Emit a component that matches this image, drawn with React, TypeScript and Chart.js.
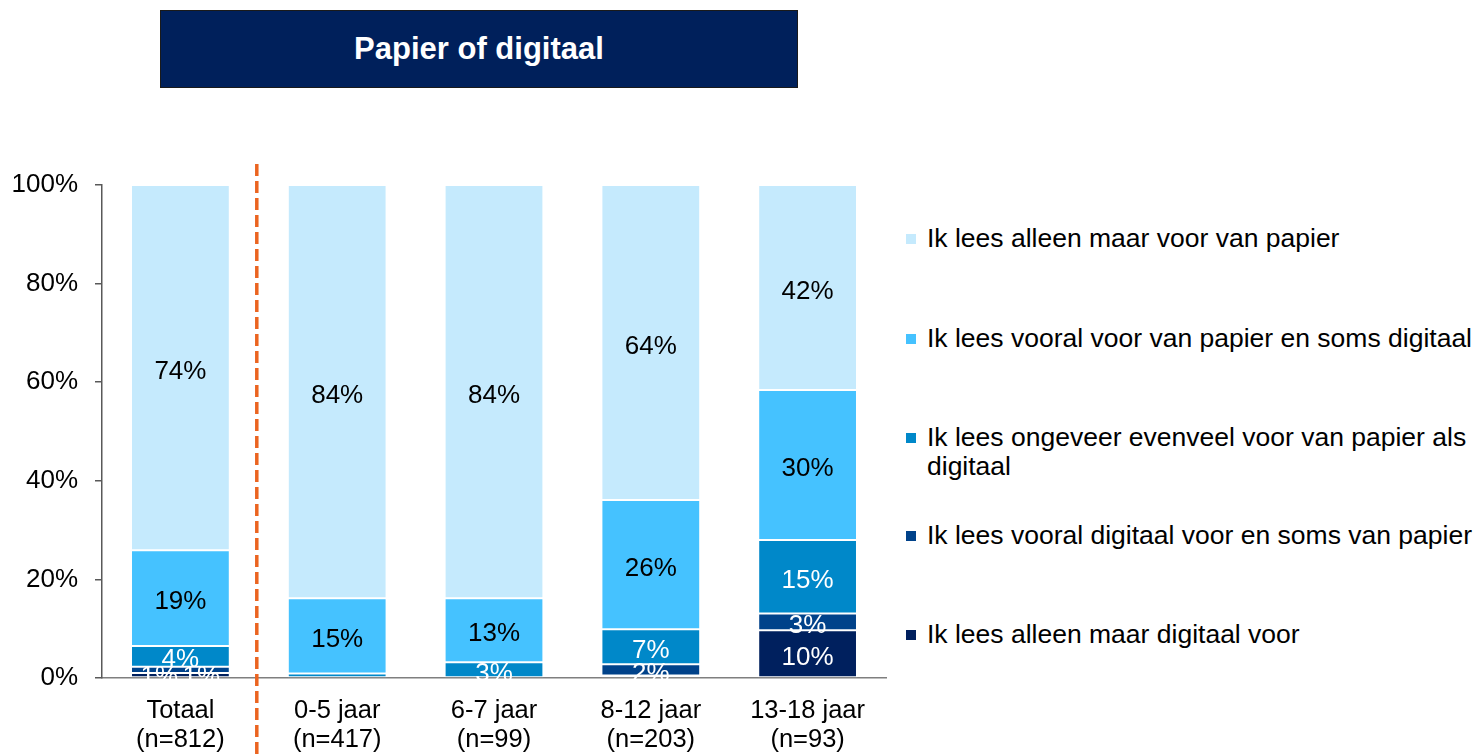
import React, { useEffect, useRef } from "react";
import { Chart, registerables } from "chart.js";

Chart.register(...registerables);

const CATEGORIES: string[][] = [
  ["Totaal", "(n=812)"],
  ["0-5 jaar", "(n=417)"],
  ["6-7 jaar", "(n=99)"],
  ["8-12 jaar", "(n=203)"],
  ["13-18 jaar", "(n=93)"],
];

// stacked bottom -> top
const ALLEEN_DIGITAAL = [1.0, 0, 0, 0.5, 9.7];
const VOORAL_DIGITAAL = [1.3, 0, 0, 2.3, 3.4];
const EVENVEEL = [4.2, 0.9, 3.2, 7.1, 14.9];
const VOORAL_PAPIER = [19.4, 15.3, 13.0, 26.2, 30.4];
const ALLEEN_PAPIER = [74.1, 83.8, 83.8, 63.9, 41.6];

const SERIES_NAMES = [
  "Ik lees alleen maar digitaal voor",
  "Ik lees vooral digitaal voor en soms van papier",
  "Ik lees ongeveer evenveel voor van papier als digitaal",
  "Ik lees vooral voor van papier en soms digitaal",
  "Ik lees alleen maar voor van papier",
];
const SERIES_DATA = [ALLEEN_DIGITAAL, VOORAL_DIGITAAL, EVENVEEL, VOORAL_PAPIER, ALLEEN_PAPIER];
const SERIES_COLORS = ["#00205E", "#00428A", "#0088C9", "#45C2FF", "#C5EAFD"];
const LABEL_COLORS = ["#FFFFFF", "#FFFFFF", "#FFFFFF", "#000000", "#000000"];

const Y_TICKS_MAX = 100;
const Y_TICKS_STEP = 20;

const FONT = '"Liberation Sans", Arial, sans-serif';

const segLabels = {
  id: "segLabels",
  afterDatasetsDraw(chart: any) {
    const ctx = chart.ctx;
    ctx.save();
    ctx.font = `26px ${FONT}`;
    ctx.textAlign = "center";
    ctx.textBaseline = "middle";
    const n = chart.data.labels.length;
    for (let i = 0; i < n; i++) {
      const items: any[] = [];
      chart.data.datasets.forEach((ds: any, di: number) => {
        const v = ds.data[i];
        if (v < 1) return;
        const el = chart.getDatasetMeta(di).data[i];
        items.push({
          x: el.x,
          y: (el.y + el.base) / 2 + 4,
          text: Math.round(v) + "%",
          color: LABEL_COLORS[di],
        });
      });
      for (let k = 1; k < items.length; k++) {
        if (Math.abs(items[k].y - items[k - 1].y) < 12) {
          items[k - 1].x -= 21;
          items[k].x += 21;
          items[k].y = items[k - 1].y = (items[k].y + items[k - 1].y) / 2;
        }
      }
      items.forEach((it) => {
        ctx.fillStyle = it.color;
        ctx.fillText(it.text, it.x, it.y);
      });
    }
    ctx.restore();
  },
};

const dividerLine = {
  id: "dividerLine",
  afterDraw(chart: any) {
    const x0 = chart.scales.x.getPixelForValue(0);
    const x1 = chart.scales.x.getPixelForValue(1);
    const x = (x0 + x1) / 2 - 2;
    const ctx = chart.ctx;
    ctx.save();
    ctx.strokeStyle = "#EB6420";
    ctx.lineWidth = 3.5;
    ctx.setLineDash([12, 5]);
    ctx.beginPath();
    ctx.moveTo(x, chart.chartArea.top - 21);
    ctx.lineTo(x, chart.height);
    ctx.stroke();
    ctx.restore();
  },
};

export default function App() {
  const canvasRef = useRef<HTMLCanvasElement | null>(null);

  useEffect(() => {
    if (!canvasRef.current) return;
    const chart = new Chart(canvasRef.current, {
      type: "bar",
      data: {
        labels: CATEGORIES,
        datasets: SERIES_DATA.map((d, i) => ({
          label: SERIES_NAMES[i],
          data: d,
          backgroundColor: SERIES_COLORS[i],
          borderColor: "#FFFFFF",
          borderWidth: 1,
          borderSkipped: false,
          barPercentage: 0.63,
          categoryPercentage: 1,
        })),
      },
      options: {
        animation: false,
        responsive: false,
        maintainAspectRatio: false,
        layout: { padding: { top: 185, right: 14, left: 0, bottom: 0 } },
        plugins: {
          legend: { display: false },
          title: { display: false },
          tooltip: { enabled: false },
        },
        scales: {
          x: {
            stacked: true,
            grid: { display: true, drawOnChartArea: false, drawTicks: false },
            border: { display: true, color: "#7F7F7F", width: 1.5 },
            ticks: {
              color: "#000000",
              padding: 18,
              font: { family: FONT, size: 25.5, lineHeight: 1.15 },
              maxRotation: 0,
              autoSkip: false,
            },
            afterFit: (scale: any) => {
              scale.height = 76;
            },
          },
          y: {
            stacked: true,
            min: 0,
            max: Y_TICKS_MAX,
            grid: {
              display: true,
              drawOnChartArea: false,
              drawTicks: true,
              tickLength: 7,
              color: "#595959",
              lineWidth: 1.5,
            },
            border: { display: true, color: "#595959", width: 1.5 },
            ticks: {
              stepSize: Y_TICKS_STEP,
              color: "#000000",
              padding: 17,
              font: { family: FONT, size: 26 },
              callback: (v: any) => v + "%",
            },
            afterFit: (scale: any) => {
              scale.width = 102;
            },
          },
        },
      },
      plugins: [segLabels, dividerLine],
    });
    return () => chart.destroy();
  }, []);

  const legendItems = SERIES_NAMES.map((name, i) => ({ name, color: SERIES_COLORS[i] })).reverse();
  const legendCenters = [239, 339, 438, 536, 635];

  return (
    <div
      style={{
        position: "absolute",
        left: 0,
        top: 0,
        width: 1480,
        height: 754,
        overflow: "hidden",
        background: "#FFFFFF",
        fontFamily: FONT,
      }}
    >
      <div
        style={{
          position: "absolute",
          left: 160,
          top: 10,
          width: 638,
          height: 78,
          boxSizing: "border-box",
          background: "#00205B",
          border: "1.5px solid #1A1A1A",
          color: "#FFFFFF",
          fontWeight: "bold",
          fontSize: 31,
          display: "flex",
          alignItems: "center",
          justifyContent: "center",
        }}
      >
        Papier of digitaal
      </div>
      <canvas
        ref={canvasRef}
        width={900}
        height={754}
        style={{ position: "absolute", left: 0, top: 0, width: 900, height: 754 }}
      />
      {legendItems.map((it, k) => {
        const parts =
          it.name === "Ik lees ongeveer evenveel voor van papier als digitaal"
            ? ["Ik lees ongeveer evenveel voor van papier als", "digitaal"]
            : [it.name];
        return (
          <div key={k}>
            <div
              style={{
                position: "absolute",
                left: 906,
                top: legendCenters[k] - 5,
                width: 10,
                height: 10,
                background: it.color,
              }}
            />
            <div
              style={{
                position: "absolute",
                left: 927,
                top: legendCenters[k] - 15,
                fontSize: 26.5,
                lineHeight: "29px",
                color: "#000000",
                whiteSpace: "nowrap",
              }}
            >
              {parts.map((p, j) => (
                <div key={j}>{p}</div>
              ))}
            </div>
          </div>
        );
      })}
    </div>
  );
}
